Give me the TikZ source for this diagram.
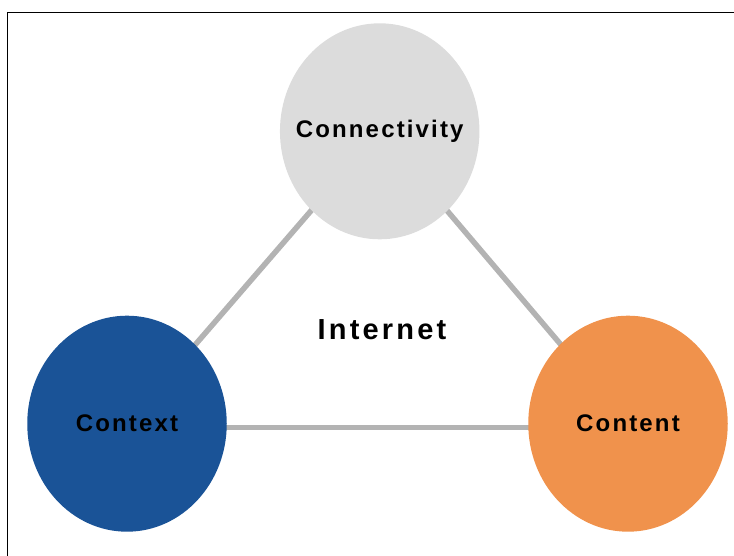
\documentclass[tikz,border=0pt]{standalone}
\usepackage{fontspec}
\usetikzlibrary{shapes.geometric}
\setmainfont{Liberation Sans}
\newfontfamily\lblfont{Liberation Sans}[LetterSpace=9, BoldFont={* Bold}, BoldFeatures={LetterSpace=9}]
\newfontfamily\netfont{Liberation Sans}[LetterSpace=11, BoldFont={* Bold}, BoldFeatures={LetterSpace=11}]
\definecolor{linkgray}{HTML}{B3B3B3}
\definecolor{hubgray}{HTML}{DCDCDC}
\definecolor{ctxblue}{HTML}{1A5397}
\definecolor{cntorange}{HTML}{F0924C}
\begin{document}
\begin{tikzpicture}[x=1pt,y=-1pt,
  hub/.style={ellipse, minimum width=199.5pt, minimum height=216pt, inner sep=0pt, font=\lblfont\bfseries\fontsize{24}{26}\selectfont, text=black},
  link/.style={draw=linkgray, line width=5.5pt}]
\useasboundingbox (0,0) rectangle (734,556);
% frame
\draw[line width=1.5pt] (7.3,556) -- (7.3,12.6) -- (734,12.6);
% centres
\coordinate (pa) at (379.7,131.3);
\coordinate (pb) at (127,423.7);
\coordinate (pc) at (628,423.7);
% links between the three hubs
\draw[link] (pa) -- (pb);
\draw[link] (pa) -- (pc);
\draw[link] ([yshift=-4pt]pb) -- ([yshift=-4pt]pc);
% hubs
\node[hub, fill=hubgray] (conn) at (pa) {\makebox[0pt]{Connectivity}};
\node[hub, fill=ctxblue] (ctx) at (pb) {\makebox[0pt]{Context}};
\node[hub, fill=cntorange] (cnt) at (pc) {\makebox[0pt]{Content}};
\node[font=\netfont\bfseries\fontsize{29}{32}\selectfont] (net) at (382,330) {Internet};
\end{tikzpicture}
\end{document}
